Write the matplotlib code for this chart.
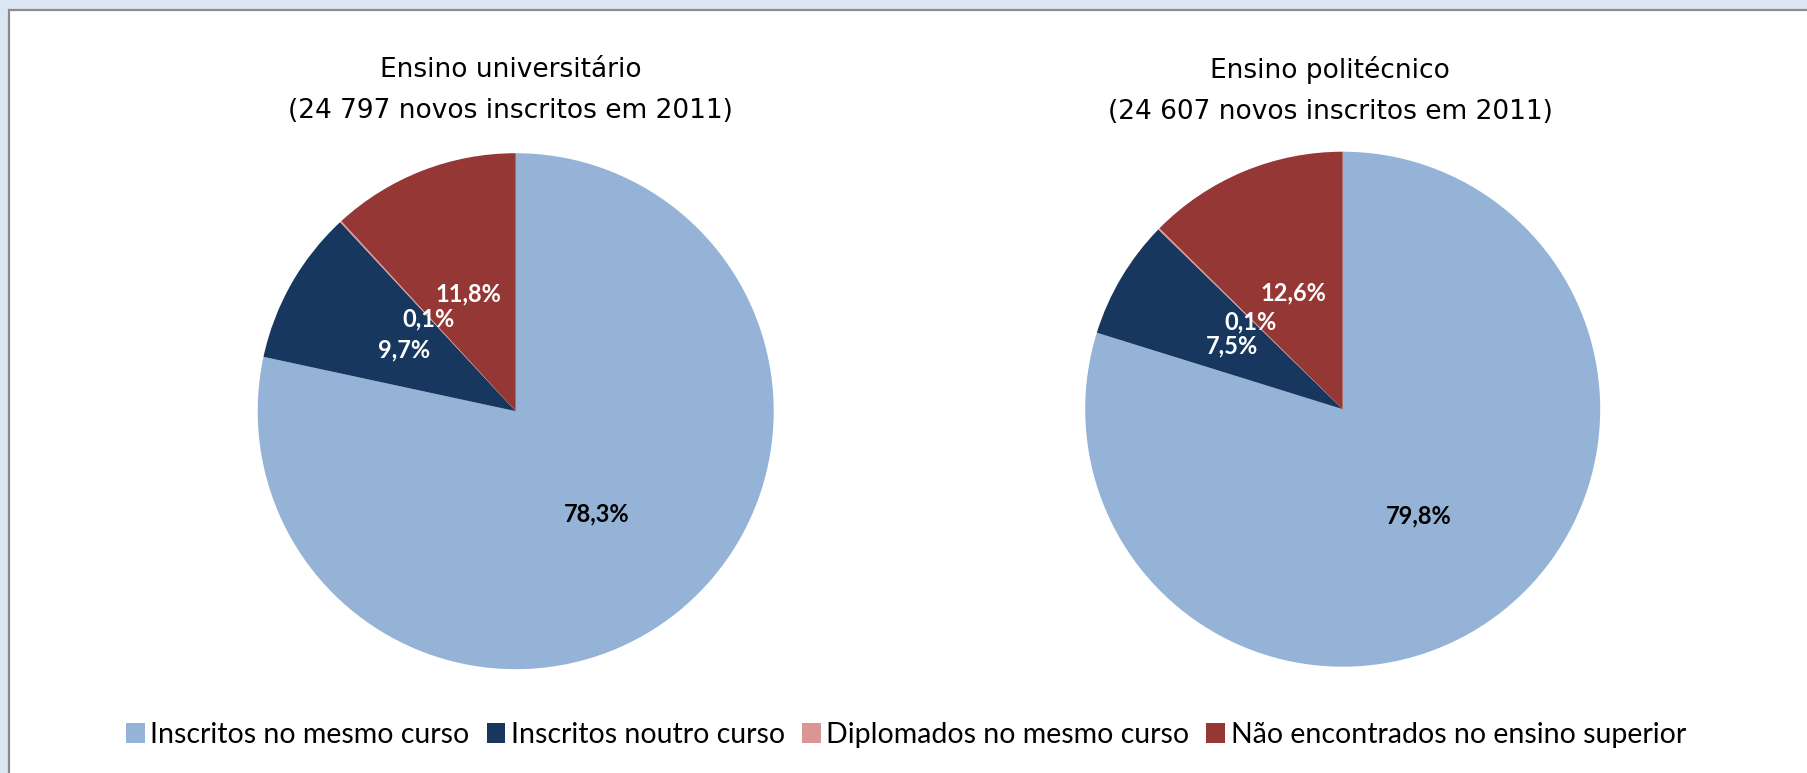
import matplotlib
matplotlib.use("Agg")
import matplotlib.pyplot as plt
from matplotlib.patches import Rectangle, Patch
import numpy as np

categories = ["Inscritos no mesmo curso", "Inscritos noutro curso",
              "Diplomados no mesmo curso", "Não encontrados no ensino superior"]
colors = ["#95B3D7", "#17375E", "#D99694", "#953735"]
univ_values = [78.3, 9.7, 0.1, 11.8]
poli_values = [79.8, 7.5, 0.1, 12.6]
univ_title = "Ensino universitário\n(24 797 novos inscritos em 2011)"
poli_title = "Ensino politécnico\n(24 607 novos inscritos em 2011)"
label_colors = ["black", "white", "white", "white"]

W, H = 1807, 773
fig = plt.figure(figsize=(W / 100, H / 100), dpi=100)
fig.patch.set_facecolor("#DCE6F2")

# white panel with grey border
fig.add_artist(Rectangle((9 / W, -0.05), 1, 1.05 - 10 / H, transform=fig.transFigure,
                         facecolor="white", edgecolor="#8C8C8C", linewidth=1.6,
                         zorder=0))

def draw_pie(cx, cy, r, values, title, title_cx):
    ax = fig.add_axes([(cx - r) / W, (H - cy - r) / H, 2 * r / W, 2 * r / H])
    wedges, _ = ax.pie(values, colors=colors, startangle=90, counterclock=False,
                       radius=1, wedgeprops=dict(linewidth=0))
    for w, v, c in zip(wedges, values, label_colors):
        ang = np.deg2rad((w.theta1 + w.theta2) / 2)
        d = 0.5
        ax.text(d * np.cos(ang), d * np.sin(ang) - 0.01, f"{v:.1f}%".replace(".", ","),
                ha="center", va="center", color=c, fontsize=17,
                fontweight="bold", family="Lato")
    ax.set_xlim(-1, 1)
    ax.set_ylim(-1, 1)
    ax.set_aspect("auto")
    ax.axis("off")
    fig.text(title_cx / W, 1 - 90.5 / H, title, ha="center", va="center",
             fontsize=19, family="DejaVu Sans", linespacing=1.79)

draw_pie(515.7, 411.2, 258, univ_values, univ_title, 510.5)
draw_pie(1342.7, 409.2, 257.5, poli_values, poli_title, 1330)

handles = [Patch(facecolor=c, edgecolor="none") for c in colors]
fig.legend(handles, categories, loc="center", bbox_to_anchor=(906 / W, 1 - 735 / H),
           ncol=4, frameon=False, prop=dict(family="Lato", size=20.5),
           handlelength=0.65, handleheight=0.65, handletextpad=0.2,
           columnspacing=0.6, borderaxespad=0)

fig.savefig("out.png", dpi=100, facecolor=fig.get_facecolor())
